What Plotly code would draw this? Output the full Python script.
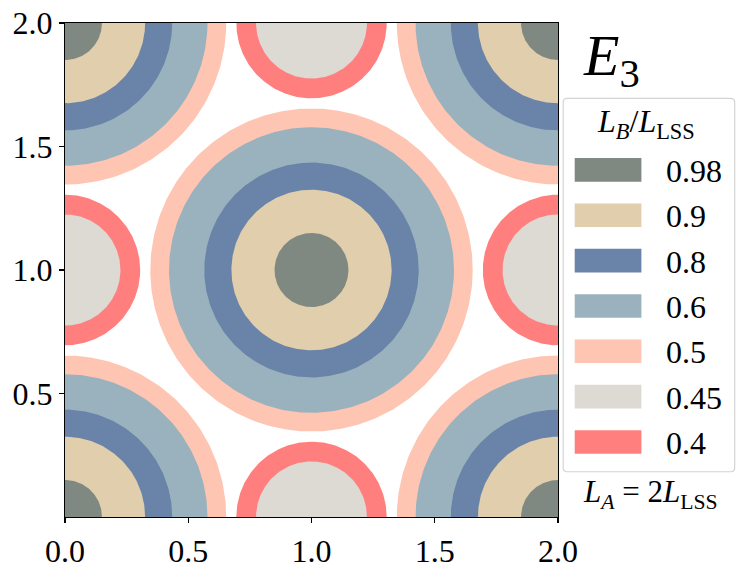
import numpy as np
import plotly.graph_objects as go

# ---- data ----
levels = ["0.98", "0.9", "0.8", "0.6", "0.5", "0.45", "0.4"]
radii = [0.15, 0.325, 0.435, 0.578, 0.654, 0.225, 0.305]
colors = ["#7f8981", "#e0cead", "#6a84a9", "#9ab2bd", "#fec5b2", "#ddd9d3", "#ff7f7f"]
# which family of centres each level belongs to
families = ["A", "A", "A", "A", "A", "B", "B"]
centres_A_x = [1.0, 0.0, 0.0, 2.0, 2.0]
centres_A_y = [1.0, 0.0, 2.0, 0.0, 2.0]
centres_B_x = [1.0, 1.0, 0.0, 2.0]
centres_B_y = [0.0, 2.0, 1.0, 1.0]
x_ticks = [0.0, 0.5, 1.0, 1.5, 2.0]
y_ticks = [0.5, 1.0, 1.5, 2.0]

FONT = "Liberation Serif, Times New Roman, serif"
W, H = 748, 572
# plot area in page pixels
L, R, T, B = 65.3, 558.3, 23.3, 516.7

fig = go.Figure()

theta = np.linspace(0, 2 * np.pi, 361)
# draw biggest circles first so smaller ones overlay
order = sorted(range(len(levels)), key=lambda i: (families[i], -radii[i]))
for i in order:
    cx = centres_A_x if families[i] == "A" else centres_B_x
    cy = centres_A_y if families[i] == "A" else centres_B_y
    xs, ys = [], []
    for x0, y0 in zip(cx, cy):
        xs += list(x0 + radii[i] * np.cos(theta)) + [None]
        ys += list(y0 + radii[i] * np.sin(theta)) + [None]
    fig.add_trace(go.Scatter(x=xs, y=ys, mode="lines", fill="toself",
                             fillcolor=colors[i], line=dict(width=0, color=colors[i]),
                             hoverinfo="skip", showlegend=False, name=levels[i]))

def px(x):
    return (x - L) / (R - L)

def py(y):
    return (B - y) / (B - T)

shapes = []
annotations = []

# legend frame (rounded)
fx0, fx1, fy0, fy1, rc = 563.5, 735.0, 98.5, 471.5, 4
path = (f"M {px(fx0+rc)},{py(fy0)} L {px(fx1-rc)},{py(fy0)} "
        f"Q {px(fx1)},{py(fy0)} {px(fx1)},{py(fy0+rc)} "
        f"L {px(fx1)},{py(fy1-rc)} Q {px(fx1)},{py(fy1)} {px(fx1-rc)},{py(fy1)} "
        f"L {px(fx0+rc)},{py(fy1)} Q {px(fx0)},{py(fy1)} {px(fx0)},{py(fy1-rc)} "
        f"L {px(fx0)},{py(fy0+rc)} Q {px(fx0)},{py(fy0)} {px(fx0+rc)},{py(fy0)} Z")
shapes.append(dict(type="path", xref="paper", yref="paper", path=path,
                   line=dict(color="#d4d4d4", width=1.2), fillcolor="white"))

for k, (lab, col) in enumerate(zip(levels, colors)):
    yc = 170.0 + k * 45.3
    shapes.append(dict(type="rect", xref="paper", yref="paper",
                       x0=px(575), x1=px(641.7), y0=py(yc - 11.8), y1=py(yc + 11.8),
                       fillcolor=col, line=dict(width=0)))
    annotations.append(dict(xref="paper", yref="paper", x=px(664), y=py(yc + 1),
                            xanchor="left", yanchor="middle", showarrow=False,
                            text=lab, font=dict(family=FONT, size=32, color="black")))

annotations.append(dict(xref="paper", yref="paper", x=px(646), y=py(124),
                        xanchor="center", yanchor="middle", showarrow=False,
                        text="<i>L</i><sub><i>B</i></sub>/<i>L</i><sub>LSS</sub>",
                        font=dict(family=FONT, size=32, color="black")))
annotations.append(dict(xref="paper", yref="paper", x=px(651), y=py(494),
                        xanchor="center", yanchor="middle", showarrow=False,
                        text="<i>L</i><sub><i>A</i></sub> = 2<i>L</i><sub>LSS</sub>",
                        font=dict(family=FONT, size=31, color="black")))
annotations.append(dict(xref="paper", yref="paper", x=px(581), y=py(60),
                        xanchor="left", yanchor="middle", showarrow=False,
                        text="<i>E</i><sub>3</sub>",
                        font=dict(family=FONT, size=58, color="black")))

axis_common = dict(range=[0, 2], showgrid=False, zeroline=False, showline=True,
                   mirror=True, linecolor="black", linewidth=1.2, ticks="outside",
                   ticklen=5, tickwidth=1.2, tickcolor="black", automargin=False,
                   ticklabeloverflow="allow",
                   tickfont=dict(family=FONT, size=32, color="black"))

fig.update_layout(
    template="none",
    width=W, height=H,
    margin=dict(l=L, r=W - R, t=T, b=H - B, pad=0, autoexpand=False),
    plot_bgcolor="white", paper_bgcolor="white",
    font=dict(family=FONT, color="black"),
    xaxis=dict(axis_common, tickvals=x_ticks, ticktext=[f"{v:.1f}" for v in x_ticks]),
    yaxis=dict(axis_common, tickvals=y_ticks, ticktext=[f"{v:.1f}" for v in y_ticks]),
    shapes=shapes, annotations=annotations, showlegend=False,
)

fig.write_html("out.html",
               config={"displayModeBar": False, "staticPlot": True},
               post_script="document.body.style.margin='0';"
                           "document.body.style.overflow='hidden';")
